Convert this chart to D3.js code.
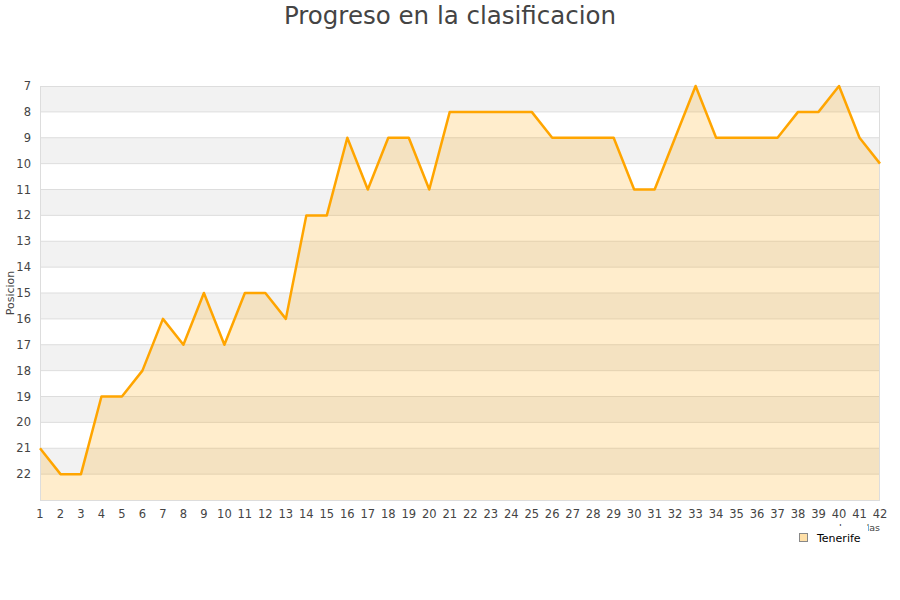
<!DOCTYPE html>
<html><head><meta charset="utf-8">
<script src="https://cdn.jsdelivr.net/npm/d3@7"></script>
<style>body{margin:0;background:#fff;}svg{display:block;font-family:"DejaVu Sans",sans-serif;}</style>
</head><body>
<svg id="c" width="900" height="600"></svg>
<script>
const jornadas = d3.range(1, 43);
const posiciones = [21,22,22,19,19,18,16,17,15,17,15,15,16,12,12,9,11,9,9,11,8,8,8,8,8,9,9,9,9,11,11,9,7,9,9,9,9,8,8,7,9,10];
const yTicks = d3.range(7, 23);
const seriesName = "Tenerife";
const title = "Progreso en la clasificacion";

const svg = d3.select("#c");
const L = 40, R = 880, T = 86, B = 500;
const x = d3.scaleLinear().domain([1, 42]).range([L, R]);
const y = d3.scaleLinear().domain([7, 23]).range([T, B]);

const bands = d3.range(7, 23);
svg.selectAll("rect.band").data(bands).enter().append("rect")
  .attr("x", L).attr("width", R - L)
  .attr("y", d => y(d)).attr("height", d => y(d + 1) - y(d))
  .attr("fill", d => (d % 2 === 1) ? "#f2f2f2" : "#ffffff");
svg.selectAll("line.grid").data(d3.range(8, 23)).enter().append("line")
  .attr("x1", L).attr("x2", R).attr("y1", d => y(d)).attr("y2", d => y(d))
  .attr("stroke", "#dddddd").attr("stroke-width", 1);

const data = jornadas.map((j, i) => ({j, p: posiciones[i]}));
svg.append("path").datum(data)
  .attr("d", d3.area().x(d => x(d.j)).y0(B).y1(d => y(d.p)))
  .attr("fill", "rgba(255,165,0,0.2)");
svg.append("rect").attr("x", L + 0.5).attr("y", T + 0.5).attr("width", R - L - 1).attr("height", B - T)
  .attr("fill", "none").attr("stroke", "#dddddd");
svg.append("path").datum(data)
  .attr("d", d3.line().x(d => x(d.j)).y(d => y(d.p)))
  .attr("fill", "none").attr("stroke", "#ffa500").attr("stroke-width", 2.5).attr("stroke-linejoin", "round");

svg.selectAll("text.yt").data(yTicks).enter().append("text")
  .attr("x", 31).attr("y", d => y(d) + 4).attr("text-anchor", "end")
  .attr("font-size", 11.5).attr("fill", "#444").text(d => d);
svg.selectAll("text.xt").data(jornadas).enter().append("text")
  .attr("x", d => x(d)).attr("y", 518).attr("text-anchor", "middle")
  .attr("font-size", 11.5).attr("fill", "#444").text(d => d);

svg.append("text").attr("transform", "translate(14,293) rotate(-90)")
  .attr("text-anchor", "middle").attr("font-size", 11).attr("fill", "#444").text("Posicion");
svg.append("text").attr("x", 880).attr("y", 531).attr("text-anchor", "end")
  .attr("font-size", 9.5).attr("fill", "#444").text("Jornadas");

svg.append("text").attr("x", 450).attr("y", 24).attr("text-anchor", "middle")
  .attr("font-size", 24.5).attr("fill", "#444").text(title);

const lg = svg.append("g");
lg.append("rect").attr("x", 790).attr("y", 526).attr("width", 78).attr("height", 24).attr("fill", "#fff");
lg.append("rect").attr("x", 799.5).attr("y", 533.5).attr("width", 8).attr("height", 8)
  .attr("fill", "#ffe0a8").attr("stroke", "#888");
lg.append("text").attr("x", 817).attr("y", 541.5).attr("font-size", 11).attr("fill", "#000").text(seriesName);
</script>
</body></html>
